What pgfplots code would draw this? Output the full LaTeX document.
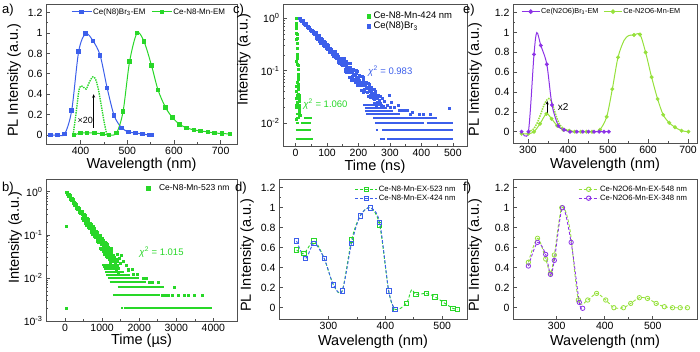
\documentclass[border=0pt]{standalone}
\usepackage{fontspec}
\setmainfont{Liberation Sans}
\usepackage{pgfplots}
\pgfplotsset{compat=1.18}
\usetikzlibrary{arrows.meta}
\definecolor{cblue}{RGB}{60,95,235}
\definecolor{cgreen}{RGB}{40,215,40}
\definecolor{cpurple}{RGB}{140,50,230}
\definecolor{clime}{RGB}{150,225,60}
\definecolor{framec}{RGB}{80,80,80}
\pgfplotsset{
  panel/.style={
    scale only axis,
    axis line style={draw=framec, line width=0.9pt},
    tick style={draw=framec, line width=0.7pt},
    major tick length=3.5pt, minor tick length=2pt,
    tick align=inside, xtick pos=left, ytick pos=left,
    tick label style={font=\fontsize{10.5}{12}\selectfont},
    label style={font=\fontsize{14.5}{17}\selectfont},
    /pgf/number format/assume math mode=true,
    /pgf/number format/1000 sep={},
    scaled x ticks=false, scaled y ticks=false,
    legend cell align=left,
    legend style={draw=none, fill=none, font=\fontsize{8}{9.5}\selectfont, nodes={inner sep=1pt}},
  },
  lmimg/.style={legend image code/.code={\draw[mark repeat=2,mark phase=2,##1] plot coordinates {(0pt,0pt) (10pt,0pt) (20pt,0pt)};}},
  dotimg/.style={legend image code/.code={\draw[##1] plot coordinates {(0pt,0pt)};}},
}
\begin{document}
\begin{tikzpicture}
\useasboundingbox (0,0) rectangle (700pt,351pt);

% ---------------- panel a
\begin{axis}[panel, lmimg, at={(46pt,207pt)}, anchor=south west, width=191pt, height=140pt,
  xmin=326, xmax=735, ymin=-0.088, ymax=1.284,
  xtick={400,500,600,700}, ytick={0,0.2,0.4,0.6,0.8,1,1.2}, minor x tick num=1, minor y tick num=1,
  xlabel={Wavelength (nm)}, ylabel={PL Intensity (a.u.)},
  xlabel style={at={(axis description cs:0.5,-0.15)},anchor=center},
  ylabel style={at={(axis description cs:-0.1675,0.457)},anchor=center},
  legend columns=2,
  legend style={at={(axis description cs:0.115,0.943)}, anchor=west, /tikz/every even column/.append style={column sep=5pt}}]
\addlegendimage{cblue, line width=1pt, mark=square*, mark size=1.8pt}
\addlegendentry{Ce(N8)Br\textsubscript{3}-EM}
\addlegendimage{cgreen, line width=1pt, mark=square*, mark size=1.8pt}
\addlegendentry{Ce-N8-Mn-EM}
\addplot[cblue, line width=1pt, smooth, mark=square*, mark size=1.8pt, forget plot] coordinates {
(336,0) (351,0) (366,0.01) (381,0.24) (396,0.82) (411,0.995) (427,0.92) (442,0.78) (457,0.46) (472,0.19) (488,0.07) (503,0.03) (518,0.02) (533,0.01) (548,0.0) (552,0.0)};
\addplot[cgreen, line width=1pt, smooth, mark=square*, mark size=1.8pt, forget plot] coordinates {
(386,0) (400,0.02) (414,0.02) (430,0.02) (447,0.01) (461,0) (477,0.02) (491,0.23) (505,0.72) (521,1.0) (536,0.915) (552,0.68) (566,0.44) (582,0.27) (597,0.17) (612,0.105) (627,0.07) (643,0.05) (657,0.04) (673,0.03) (687,0.02) (703,0.015) (720,0.01)};
\addplot[cgreen, line width=1.4pt, densely dotted, smooth, forget plot] coordinates {
(384,0) (390,0.2) (396,0.42) (400,0.48) (406,0.47) (412,0.45) (419,0.52) (426,0.57) (432,0.55) (438,0.45) (444,0.3) (450,0.14) (455,0.03) (458,0)};
\draw[-{Stealth[length=3.5pt,width=3pt]}, black, line width=0.6pt] (axis cs:428,0.07) -- (axis cs:428,0.40);
\node[font=\fontsize{9}{10}\selectfont, inner sep=0pt] at (axis cs:410,0.14) {×20};
\end{axis}

% ---------------- panel c
\begin{axis}[panel, dotimg, at={(283pt,205pt)}, anchor=south west, width=184pt, height=142pt,
  xmin=-40, xmax=545, ymode=log, ymin=0.0037, ymax=1.87,
  xtick={0,100,200,300,400,500}, minor x tick num=1,
  ytick={0.01,0.1,1}, yticklabels={10\textsuperscript{-2},10\textsuperscript{-1},10\textsuperscript{0}},
  xlabel={Time (ns)}, ylabel={Intensity (a.u.)},
  xlabel style={at={(axis description cs:0.5,-0.145)},anchor=center},
  ylabel style={at={(axis description cs:-0.212,0.606)},anchor=center},
  legend style={font=\fontsize{9.5}{11}\selectfont, at={(axis description cs:0.4375,0.968)}, anchor=north west, /tikz/every odd column/.append style={column sep=2pt}}]
\addlegendimage{only marks, cgreen, mark=square*, mark size=1.9pt}
\addlegendentry{Ce-N8-Mn-424 nm}
\addlegendimage{only marks, cblue, mark=square*, mark size=1.9pt}
\addlegendentry{Ce(N8)Br\textsubscript{3}}
% green
\addplot[only marks, cgreen, mark=square*, mark size=1.0pt, forget plot] coordinates {
(0.5,0.15) (1,0.4) (1.5,0.75) (2,1.0) (2.5,0.82) (3,0.66) (3.5,0.53) (4,0.42) (4.5,0.34) (5,0.27) (5.5,0.21) (6,0.17) (6.5,0.135) (7,0.107) (7.5,0.085) (8,0.068) (8.5,0.055) (9,0.044) (9.5,0.036) (10,0.03) (10.5,0.026) (11,0.022) (12,0.019) (13,0.016) (14,0.014) (4,0.5) (5,0.33) (6,0.2) (7,0.13) (8,0.08) (3,0.75) (9,0.05) (10,0.035) (6,0.025) (5,0.035) (4,0.06) (11,0.018) (12,0.014) (3,0.02) (2,0.03) (1,0.05) (2,0.012) (1,0.022) (3,0.04)};
\addplot[cgreen, line width=2pt, forget plot] coordinates {(0,0.005) (55,0.005)};
\addplot[cgreen, line width=2pt, forget plot] coordinates {(0,0.0075) (50,0.0075)};
\addplot[cgreen, line width=2pt, forget plot] coordinates {(0,0.01) (12,0.01)};
\addplot[cgreen, line width=2pt, forget plot] coordinates {(18,0.01) (50,0.01)};
\addplot[cgreen, line width=2pt, forget plot] coordinates {(0,0.0125) (13,0.0125)};
\addplot[cgreen, line width=2pt, forget plot] coordinates {(28,0.0125) (53,0.0125)};
\addplot[cgreen, line width=2pt, forget plot] coordinates {(0,0.015) (10,0.015)};
% blue
\addplot[only marks, cblue, mark=square*, mark size=1.0pt, forget plot] coordinates {
(13,1.000) (18,0.931) (23,0.867) (28,0.807) (33,0.751) (38,0.699) (43,0.651) (48,0.606) (53,0.564) (58,0.525) (63,0.489) (68,0.455) (73,0.424) (78,0.395) (83,0.367) (88,0.342) (93,0.318) (98,0.296) (103,0.276) (108,0.257) (113,0.239) (118,0.223) (123,0.207) (128,0.193) (133,0.180) (138,0.167) (143,0.156) (148,0.145) (153,0.135) (158,0.126) (163,0.117) (168,0.109) (173,0.101) (178,0.0943) (183,0.0878) (188,0.0817) (193,0.0761) (198,0.0708) (203,0.0659) (208,0.0614) (213,0.0571) (218,0.0532) (223,0.0495) (228,0.0461) (233,0.0429) (238,0.0400) (243,0.0372) (248,0.0346) (253,0.0322) (258,0.0300)
(14.7,0.976) (19.7,0.863) (24.7,0.897) (29.7,0.740) (34.7,0.770) (39.7,0.648) (44.7,0.674) (49.7,0.556) (54.7,0.578) (59.7,0.487) (64.7,0.535) (69.7,0.395) (74.7,0.447) (79.7,0.335) (84.7,0.408) (89.7,0.300) (94.7,0.341) (99.7,0.254) (104.7,0.304) (109.7,0.228) (114.7,0.254) (119.7,0.187) (124.7,0.232) (129.7,0.170) (134.7,0.193) (139.7,0.142) (144.7,0.171) (149.7,0.126) (154.7,0.171) (159.7,0.0959) (164.7,0.137) (169.7,0.0766) (174.7,0.138) (179.7,0.0755) (184.7,0.107) (189.7,0.0598) (194.7,0.1003) (199.7,0.0553) (204.7,0.0785) (209.7,0.0419) (214.7,0.0769) (219.7,0.0405) (224.7,0.0618) (229.7,0.0333) (234.7,0.0553) (239.7,0.0312) (244.7,0.0454) (249.7,0.0243) (254.7,0.0409) (259.7,0.0228)
(16.3,0.896) (21.3,0.920) (26.3,0.793) (31.3,0.807) (36.3,0.680) (41.3,0.706) (46.3,0.583) (51.3,0.606) (56.3,0.516) (61.3,0.520) (66.3,0.410) (71.3,0.481) (76.3,0.364) (81.3,0.425) (86.3,0.301) (91.3,0.359) (96.3,0.276) (101.3,0.322) (106.3,0.229) (111.3,0.267) (116.3,0.203) (121.3,0.238) (126.3,0.178) (131.3,0.208) (136.3,0.148) (141.3,0.175) (146.3,0.134) (151.3,0.155) (156.3,0.0978) (161.3,0.151) (166.3,0.0937) (171.3,0.140) (176.3,0.0674) (181.3,0.1096) (186.3,0.0669) (191.3,0.1012) (196.3,0.0537) (201.3,0.0837) (206.3,0.0540) (211.3,0.0778) (216.3,0.0392) (221.3,0.0608) (226.3,0.0387) (231.3,0.0571) (236.3,0.0311) (241.3,0.0477) (246.3,0.0298) (251.3,0.0445) (256.3,0.0221) (261.3,0.0343)
(13.8,0.99) (18.8,0.875) (23.8,0.919) (28.8,0.759) (33.8,0.796) (38.8,0.657) (43.8,0.690) (48.8,0.570) (53.8,0.598) (58.8,0.494) (63.8,0.538) (68.8,0.410) (73.8,0.466) (78.8,0.356) (83.8,0.404) (88.8,0.308) (93.8,0.350) (98.8,0.266) (103.8,0.304) (108.8,0.231) (113.8,0.263) (118.8,0.201) (123.8,0.228) (128.8,0.174) (133.8,0.198) (138.8,0.150) (143.8,0.172) (148.8,0.131) (153.8,0.159) (158.8,0.107) (163.8,0.138) (168.8,0.0927) (173.8,0.119) (178.8,0.0802) (183.8,0.1036) (188.8,0.0694) (193.8,0.0898) (198.8,0.0602) (203.8,0.0778) (208.8,0.0522) (213.8,0.0674) (218.8,0.0452) (223.8,0.0584) (228.8,0.0392) (233.8,0.0506) (238.8,0.0340) (243.8,0.0439) (248.8,0.0294) (253.8,0.0380) (258.8,0.0255)
(15.5,0.936) (20.5,0.925) (25.5,0.812) (30.5,0.802) (35.5,0.703) (40.5,0.695) (45.5,0.609) (50.5,0.602) (55.5,0.528) (60.5,0.522) (65.5,0.458) (70.5,0.452) (75.5,0.397) (80.5,0.393) (85.5,0.344) (90.5,0.340) (95.5,0.298) (100.5,0.294) (105.5,0.258) (110.5,0.255) (115.5,0.224) (120.5,0.222) (125.5,0.194) (130.5,0.192) (135.5,0.168) (140.5,0.166) (145.5,0.146) (150.5,0.144) (155.5,0.126) (160.5,0.125) (165.5,0.110) (170.5,0.108) (175.5,0.0945) (180.5,0.0937) (185.5,0.0822) (190.5,0.0812) (195.5,0.0712) (200.5,0.0704) (205.5,0.0617) (210.5,0.0610) (215.5,0.0534) (220.5,0.0529) (225.5,0.0463) (230.5,0.0458) (235.5,0.0402) (240.5,0.0398) (245.5,0.0348) (250.5,0.0344) (255.5,0.0301) (260.5,0.0298)
(265,0.027) (270,0.024) (276,0.030) (283,0.026) (290,0.022) (298,0.035) (305,0.025) (312,0.020) (325,0.022) (340,0.018) (355,0.0175) (372,0.016) (487,0.019) (268,0.033) (272,0.02) (280,0.021)};
\addplot[cblue, line width=2pt, forget plot] coordinates {(268,0.005) (285,0.005)};
\addplot[cblue, line width=2pt, forget plot] coordinates {(292,0.005) (502,0.005)};
\addplot[cblue, line width=2pt, forget plot] coordinates {(255,0.0075) (262,0.0075)};
\addplot[cblue, line width=2pt, forget plot] coordinates {(275,0.0075) (502,0.0075)};
\addplot[cblue, line width=2pt, forget plot] coordinates {(252,0.01) (407,0.01)};
\addplot[cblue, line width=2pt, forget plot] coordinates {(417,0.01) (502,0.01)};
\addplot[cblue, line width=2pt, forget plot] coordinates {(247,0.0125) (449,0.0125)};
\addplot[cblue, line width=2pt, forget plot] coordinates {(224,0.015) (332,0.015)};
\addplot[cblue, line width=2pt, forget plot] coordinates {(220,0.0175) (311,0.0175)};
\addplot[cblue, line width=2pt, forget plot] coordinates {(220,0.02) (290,0.02)};
\addplot[cblue, line width=2pt, forget plot] coordinates {(215,0.0225) (279,0.0225)};
\addplot[only marks, cblue, mark=square*, mark size=1.0pt, forget plot] coordinates {
(364,0.015) (394,0.015) (407,0.015) (428,0.015) (330,0.0175) (345,0.0175) (300,0.02)};
\node[text=cblue, font=\fontsize{9.5}{11}\selectfont] at (axis cs:301,0.1) {\textit{χ}\textsuperscript{2} = 0.983};
\node[text=cgreen, font=\fontsize{9.5}{11}\selectfont] at (axis cs:95,0.0233) {\textit{χ}\textsuperscript{2} = 1.060};
\end{axis}

% ---------------- panel e
\begin{axis}[panel, lmimg, at={(513pt,208pt)}, anchor=south west, width=184pt, height=139pt,
  xmin=262.5, xmax=722.5, ymin=-0.114, ymax=1.288,
  xtick={300,400,500,600,700}, ytick={0,0.2,0.4,0.6,0.8,1,1.2}, minor x tick num=1, minor y tick num=1,
  xlabel={Wavelength (nm)}, ylabel={PL Intensity (a.u.)},
  xlabel style={at={(axis description cs:0.5,-0.155)},anchor=center},
  ylabel style={at={(axis description cs:-0.2065,0.457)},anchor=center},
  legend columns=2,
  legend image code/.code={\draw[mark repeat=2,mark phase=2,#1] plot coordinates {(0pt,0pt) (9pt,0pt) (18pt,0pt)};},
  legend style={font=\fontsize{7.3}{9}\selectfont, at={(axis description cs:0.027,0.945)}, anchor=west, /tikz/every even column/.append style={column sep=4pt}}]
\addlegendimage{cpurple, line width=1pt, mark=*, mark size=1.8pt}
\addlegendentry{Ce(N2O6)Br\textsubscript{3}-EM}
\addlegendimage{clime, line width=1pt, mark=*, mark size=1.8pt}
\addlegendentry{Ce-N2O6-Mn-EM}
\addplot[clime, line width=1pt, smooth, forget plot] coordinates {
(284,-0.02) (301,-0.02) (315,0.0) (330,0.08) (346,0.18) (359,0.13) (373,0.06) (388,0.02) (403,0.01) (417,0) (432,0) (446,0) (460,0) (468,0) (480,0.02) (496.7,0.15) (510.8,0.43) (525,0.75) (540,0.92) (552,0.97) (565,0.975) (580,0.98) (594,0.8) (609,0.55) (624,0.33) (638,0.17) (653,0.09) (667.5,0.045) (684,0.01) (701,0)};
\addplot[only marks, clime, mark=*, mark size=1.8pt, forget plot] coordinates {
(284,-0.02) (301,-0.02) (315,0.0) (330,0.08) (346,0.18) (359,0.13) (373,0.06) (388,0.02) (403,0.01) (417,0) (432,0) (446,0) (460,0) (480,0.02) (496.7,0.15) (510.8,0.43) (525,0.75) (565,0.975) (580,0.98) (594,0.8) (609,0.55) (624,0.33) (638,0.17) (653,0.09) (667.5,0.045) (684,0.01) (701,0)};
\addplot[clime, line width=1.5pt, densely dotted, smooth, forget plot] coordinates {
(300,0) (312,0.02) (322,0.08) (332,0.18) (340,0.27) (347,0.32) (352,0.335) (358,0.31) (364,0.24) (371,0.15) (378,0.08) (386,0.04) (395,0.02) (405,0.01) (415,0)};
\addplot[cpurple, line width=1pt, smooth, forget plot] coordinates {
(284,0) (301,0.0) (315,0.78) (322,1.0) (332,0.87) (347,0.68) (360,0.27) (376,0.06) (390,0.02) (405,0.0) (422,0) (437,0) (451,0) (465,0) (478,0) (490,0) (502,0)};
\addplot[only marks, cpurple, mark=*, mark size=1.8pt, forget plot] coordinates {
(284,0) (301,0.0) (315,0.78) (332,0.87) (347,0.68) (360,0.27) (376,0.06) (390,0.02) (405,0.0) (422,0) (437,0) (451,0) (465,0) (478,0) (490,0) (502,0)};
\draw[-{Stealth[length=3.5pt,width=3pt]}, black, line width=0.6pt] (axis cs:348,0.18) -- (axis cs:348,0.31);
\node[font=\fontsize{10}{11}\selectfont, inner sep=0pt] at (axis cs:388,0.25) {x2};
\end{axis}

% ---------------- panel b
\begin{axis}[panel, dotimg, at={(46pt,30pt)}, anchor=south west, width=191pt, height=142pt,
  xmin=-512, xmax=4636, ymode=log, ymin=0.001, ymax=1.98,
  xtick={0,1000,2000,3000,4000}, minor x tick num=1,
  ytick={0.001,0.01,0.1,1}, yticklabels={10\textsuperscript{-3},10\textsuperscript{-2},10\textsuperscript{-1},10\textsuperscript{0}},
  xlabel={Time (µs)}, ylabel={Intensity (a.u.)},
  xlabel style={at={(axis description cs:0.5,-0.14)},anchor=center},
  ylabel style={at={(axis description cs:-0.162,0.585)},anchor=center},
  legend style={font=\fontsize{8.5}{10}\selectfont, at={(axis description cs:0.508,0.937)}, anchor=west, /tikz/every odd column/.append style={column sep=8pt}}]
\addlegendimage{only marks, cgreen, mark=square*, mark size=1.9pt}
\addlegendentry{Ce-N8-Mn-523 nm}
\addplot[only marks, cgreen, mark=square*, mark size=1.0pt, forget plot] coordinates {
(45,1.000) (85,0.890) (125,0.792) (165,0.705) (205,0.627) (245,0.558) (285,0.497) (325,0.442) (365,0.394) (405,0.350) (445,0.312) (485,0.277) (525,0.247) (565,0.220) (605,0.196) (645,0.174) (685,0.155) (725,0.138) (765,0.123) (805,0.109) (845,0.0972) (885,0.0865) (925,0.0770) (965,0.0685) (1005,0.0610) (1045,0.0543) (1085,0.0483) (1125,0.0430) (1165,0.0383) (1205,0.0340) (1245,0.0303) (1285,0.0270) (1325,0.0240) (1365,0.0214) (1405,0.0190)
(58,0.963) (98,0.797) (138,0.816) (178,0.625) (218,0.658) (258,0.500) (298,0.517) (338,0.392) (378,0.406) (418,0.317) (458,0.361) (498,0.224) (538,0.281) (578,0.169) (618,0.230) (658,0.139) (698,0.175) (738,0.106) (778,0.142) (818,0.0861) (858,0.116) (898,0.0666) (938,0.1001) (978,0.0475) (1018,0.0764) (1058,0.0356) (1098,0.0651) (1138,0.0311) (1178,0.0487) (1218,0.0229) (1258,0.0403) (1298,0.0192) (1338,0.0300) (1378,0.0144) (1418,0.0247)
(72,0.859) (112,0.880) (152,0.673) (192,0.704) (232,0.545) (272,0.552) (312,0.422) (352,0.441) (392,0.339) (432,0.343) (472,0.239) (512,0.307) (552,0.183) (592,0.248) (632,0.152) (672,0.190) (712,0.115) (752,0.158) (792,0.0932) (832,0.121) (872,0.0719) (912,0.0975) (952,0.0498) (992,0.0842) (1032,0.0417) (1072,0.0692) (1112,0.0312) (1152,0.0517) (1192,0.0269) (1232,0.0427) (1272,0.0202) (1312,0.0329) (1352,0.0164) (1392,0.0277) (1432,0.0123)
(465,0.309) (505,0.248) (545,0.245) (585,0.197) (625,0.194) (665,0.156) (705,0.153) (745,0.124) (785,0.122) (825,0.0977) (865,0.0962) (905,0.0775) (945,0.0762) (985,0.0614) (1025,0.0604) (1065,0.0486) (1105,0.0478) (1145,0.0385) (1185,0.0379) (1225,0.0305) (1265,0.0300) (1305,0.0242) (1345,0.0238) (1385,0.0192)
(78,0.874) (118,0.842) (158,0.692) (198,0.667) (238,0.548) (278,0.528) (318,0.434) (358,0.418) (398,0.344) (438,0.331) (478,0.273) (518,0.262) (558,0.216) (598,0.208) (638,0.171) (678,0.165) (718,0.135) (758,0.131) (798,0.108) (838,0.103) (878,0.0850) (918,0.0818) (958,0.0673) (998,0.0648) (1038,0.0533) (1078,0.0514) (1118,0.0422) (1158,0.0407) (1198,0.0335) (1238,0.0322) (1278,0.0265) (1318,0.0255) (1358,0.0210) (1398,0.0202) (1438,0.0166)
(30,0.16) (30,0.002) (1150,0.06) (1250,0.05) (1400,0.035) (1510,0.033) (1650,0.02) (1700,0.015) (1800,0.016) (1450,0.028) (1480,0.022) (1560,0.025)
(2620,0.004) (2700,0.004) (2780,0.004) (2900,0.004) (3050,0.004) (3200,0.004) (3330,0.004) (3480,0.004) (3700,0.004) (2935,0.006) (2260,0.008) (2350,0.008) (2500,0.008) (2100,0.01) (2200,0.01) (1850,0.012) (1950,0.012) (1700,0.016)};
\addplot[cgreen, line width=2pt, forget plot] coordinates {(1520,0.002) (1560,0.002)};
\addplot[cgreen, line width=2pt, forget plot] coordinates {(1580,0.002) (3960,0.002)};
\addplot[cgreen, line width=2pt, forget plot] coordinates {(1290,0.004) (2560,0.004)};
\addplot[cgreen, line width=2pt, forget plot] coordinates {(1420,0.006) (2680,0.006)};
\addplot[cgreen, line width=2pt, forget plot] coordinates {(1200,0.008) (2180,0.008)};
\addplot[cgreen, line width=2pt, forget plot] coordinates {(1150,0.01) (2000,0.01)};
\addplot[cgreen, line width=2pt, forget plot] coordinates {(1100,0.012) (1750,0.012)};
\addplot[cgreen, line width=2pt, forget plot] coordinates {(1080,0.014) (1600,0.014)};
\addplot[cgreen, line width=2pt, forget plot] coordinates {(1050,0.016) (1450,0.016)};
\addplot[cgreen, line width=2pt, forget plot] coordinates {(1020,0.018) (1350,0.018)};
\addplot[cgreen, line width=2pt, forget plot] coordinates {(1000,0.02) (1300,0.02)};
\node[text=cgreen, font=\fontsize{9.5}{11}\selectfont] at (axis cs:2601,0.039) {\textit{χ}\textsuperscript{2} = 1.015};
\end{axis}

% ---------------- panel d
\begin{axis}[panel, at={(279pt,32pt)}, anchor=south west, width=188pt, height=140pt,
  xmin=213, xmax=543.6, ymin=-0.113, ymax=1.287,
  xtick={300,400,500}, ytick={0,0.2,0.4,0.6,0.8,1,1.2}, minor x tick num=1, minor y tick num=1,
  xlabel={Wavelength (nm)}, ylabel={PL Intensity (a.u.)},
  xlabel style={at={(axis description cs:0.5,-0.165)},anchor=center},
  ylabel style={at={(axis description cs:-0.170,0.457)},anchor=center},
  legend image code/.code={\draw[mark repeat=2,mark phase=2,#1] plot coordinates {(0pt,0pt) (11pt,0pt) (22pt,0pt)};},
  legend style={font=\fontsize{7.7}{9}\selectfont, at={(axis description cs:0.387,0.974)}, anchor=north west}]
\addlegendimage{cgreen, line width=0.9pt, densely dashed, mark=square, mark size=2.2pt, mark options={solid}}
\addlegendentry{Ce-N8-Mn-EX-523 nm}
\addlegendimage{cblue, line width=0.9pt, densely dashed, mark=square, mark size=2.2pt, mark options={solid}}
\addlegendentry{Ce-N8-Mn-EX-424 nm}
\addplot[cgreen, line width=0.9pt, densely dashed, smooth, forget plot] coordinates {
(244,0.577) (257,0.543) (274.7,0.667) (292.4,0.493) (308.8,0.227) (324,0.167) (340.6,0.677) (355.9,0.92) (373.5,1.0) (390,0.827) (405.9,0.167) (417.6,-0.017) (437,0.043) (446,0.178) (454,0.133) (472,0.143) (487,0.11) (503,0.05) (519,-0.007) (526.5,-0.017)};
\addplot[only marks, cgreen, mark=square, mark size=2.2pt, line width=0.8pt, forget plot] coordinates {
(244,0.577) (257,0.543) (274.7,0.667) (292.4,0.493) (308.8,0.227) (324,0.167) (340.6,0.677) (355.9,0.92) (373.5,1.0) (390,0.827) (405.9,0.167) (417.6,-0.017) (437,0.043) (454,0.133) (472,0.143) (487,0.11) (503,0.05) (519,-0.007) (526.5,-0.017)};
\addplot[cblue, line width=0.9pt, densely dashed, smooth, mark=square, mark size=2.2pt, mark options={solid, line width=0.8pt}, forget plot] coordinates {
(244,0.667) (259.4,0.493) (274.7,0.643) (292.4,0.493) (308.8,0.227) (324,0.167) (340.6,0.643) (355.9,0.92) (373.5,1.0) (390,0.853) (405.9,0.167) (416.5,-0.017)};
\end{axis}

% ---------------- panel f
\begin{axis}[panel, at={(513pt,32pt)}, anchor=south west, width=184pt, height=140pt,
  xmin=209, xmax=592, ymin=-0.113, ymax=1.287,
  xtick={300,400,500}, ytick={0,0.2,0.4,0.6,0.8,1,1.2}, minor x tick num=1, minor y tick num=1,
  xlabel={Wavelength (nm)}, ylabel={PL Intensity (a.u.)},
  xlabel style={at={(axis description cs:0.5,-0.165)},anchor=center},
  ylabel style={at={(axis description cs:-0.2065,0.457)},anchor=center},
  legend image code/.code={\draw[mark repeat=2,mark phase=2,#1] plot coordinates {(0pt,0pt) (10pt,0pt) (20pt,0pt)};},
  legend style={font=\fontsize{7.7}{9}\selectfont, at={(axis description cs:0.337,0.974)}, anchor=north west}]
\addlegendimage{clime, line width=0.9pt, densely dashed, mark=o, mark size=2.2pt, mark options={solid}}
\addlegendentry{Ce-N2O6-Mn-EX-548 nm}
\addlegendimage{cpurple, line width=0.9pt, densely dashed, mark=o, mark size=2.2pt, mark options={solid}}
\addlegendentry{Ce-N2O6-Mn-EX-348 nm}
\addplot[clime, line width=0.9pt, densely dashed, smooth, forget plot] coordinates {
(241,0.454) (260,0.694) (277,0.487) (287,0.344) (295,0.527) (310.5,1.0) (327,0.8) (345,0.077) (364.6,0.077) (383,0.143) (402,0.077) (419,0) (439,0) (454,0.043) (472,0.1) (489,0.093) (507,0.043) (524,0.01) (541,0) (557,0) (572,0)};
\addplot[only marks, clime, mark=o, mark size=2.2pt, line width=0.8pt, forget plot] coordinates {
(241,0.454) (260,0.694) (277,0.487) (287,0.344) (295,0.527) (310.5,1.0) (345,0.077) (364.6,0.077) (383,0.143) (402,0.077) (419,0) (439,0) (454,0.043) (472,0.1) (489,0.093) (507,0.043) (524,0.01) (541,0) (557,0) (572,0)};
\addplot[cpurple, line width=0.9pt, densely dashed, smooth, mark=o, mark size=2.2pt, mark options={solid, line width=0.8pt}, forget plot] coordinates {
(241,0.417) (260,0.653) (277,0.533) (287,0.333) (295,0.473) (312,1.0) (330,0.653) (347,0.053) (354,-0.006)};
\end{axis}

% panel letters
\node[anchor=west, font=\fontsize{13}{15}\selectfont, inner sep=0pt] at (2pt,341pt) {a)};
\node[anchor=west, font=\fontsize{13}{15}\selectfont, inner sep=0pt] at (2pt,163pt) {b)};
\node[anchor=west, font=\fontsize{13}{15}\selectfont, inner sep=0pt] at (233pt,341pt) {c)};
\node[anchor=west, font=\fontsize{13}{15}\selectfont, inner sep=0pt] at (235pt,163pt) {d)};
\node[anchor=west, font=\fontsize{13}{15}\selectfont, inner sep=0pt] at (463pt,341pt) {e)};
\node[anchor=west, font=\fontsize{13}{15}\selectfont, inner sep=0pt] at (463pt,163pt) {f)};
\end{tikzpicture}
\end{document}
